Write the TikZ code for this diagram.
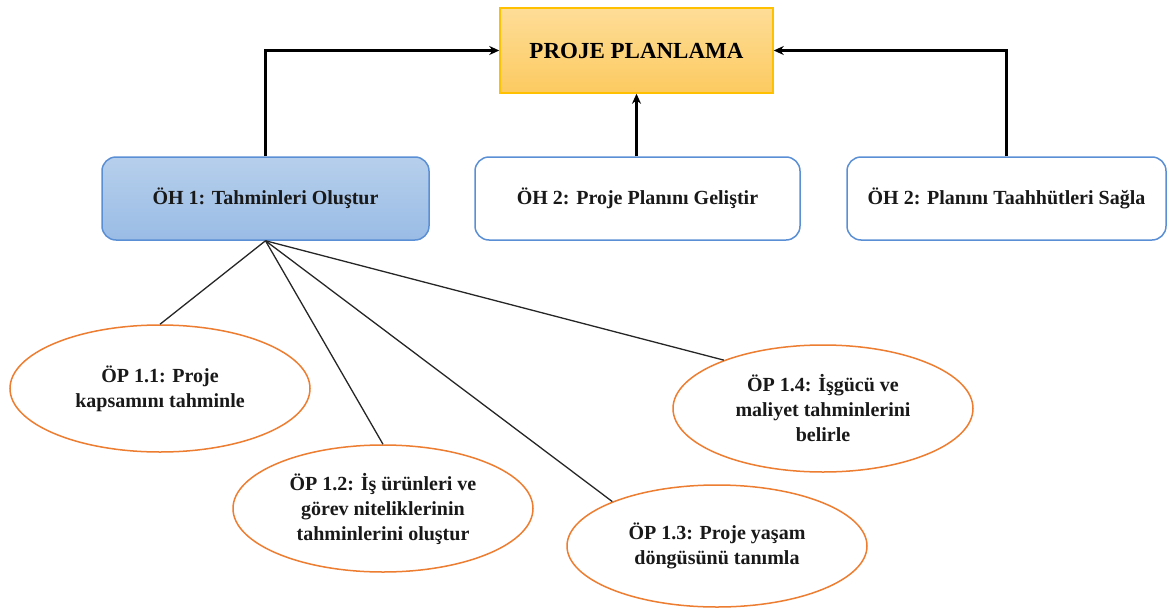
\documentclass[tikz,border=0pt]{standalone}
\usepackage{fontspec}
\setmainfont{Liberation Serif}
\usetikzlibrary{arrows.meta,shapes.geometric}
\definecolor{orbord}{HTML}{FFC000}
\definecolor{ortop}{HTML}{FEDD98}
\definecolor{orbot}{HTML}{FCCA60}
\definecolor{blbord}{HTML}{5B8FD5}
\definecolor{bltop}{HTML}{B6CFEC}
\definecolor{blbot}{HTML}{9ABCE5}
\definecolor{elbord}{HTML}{ED7D31}
\tikzset{
  txt/.style={font=\bfseries\fontsize{20}{25}\selectfont, align=center, text=black!90},
  topbox/.style={draw=orbord, line width=1.5pt, top color=ortop, bottom color=orbot,
    minimum width=273pt, minimum height=85pt, inner sep=0pt,
    font=\bfseries\fontsize{23}{28}\selectfont},
  hbox/.style={txt, draw=blbord, line width=1.5pt, rounded corners=14pt, fill=white,
    minimum height=83pt, inner sep=0pt},
  hboxb/.style={hbox, top color=bltop, bottom color=blbot},
  op/.style={txt, ellipse, draw=elbord, line width=1.5pt, fill=white, inner sep=0pt},
  arr/.style={line width=2.5pt, -{Stealth[length=10pt,width=9pt]}},
  ln/.style={line width=1.3pt, black!85}
}
\begin{document}
\begin{tikzpicture}[x=1pt,y=-1pt]
\useasboundingbox (0,0) rectangle (1167,613);
\node[topbox] (pp) at (636.5,50.5) {PROJE PLANLAMA};
\node[hboxb, minimum width=327pt] (oh1) at (265.5,198.5) {ÖH 1: Tahminleri Oluştur};
\node[hbox, minimum width=325pt] (oh2) at (637.5,198.5) {ÖH 2: Proje Planını Geliştir};
\node[hbox, minimum width=319pt] (oh3) at (1006.5,198.5) {ÖH 2: Planını Taahhütleri Sağla};

\node[op, minimum width=300pt, minimum height=127pt] (op1) at (160,388.5) {ÖP 1.1: Proje\\kapsamını tahminle};
\node[op, minimum width=300pt, minimum height=127pt] (op2) at (383,508.5) {ÖP 1.2: İş ürünleri ve\\görev niteliklerinin\\tahminlerini oluştur};
\node[op, minimum width=300pt, minimum height=122pt] (op3) at (717,546) {ÖP 1.3: Proje yaşam\\döngüsünü tanımla};
\node[op, minimum width=300pt, minimum height=127pt] (op4) at (823,408.5) {ÖP 1.4: İşgücü ve\\maliyet tahminlerini\\belirle};

\draw[arr] (oh1.north) |- (pp.west);
\draw[arr] (oh2.north -| pp.south) -- (pp.south);
\draw[arr] (oh3.north) |- (pp.east);

\coordinate (hub) at (oh1.south);
\draw[ln] (hub) -- (op1.north);
\draw[ln] (hub) -- (op2.north);
\draw[ln] (hub) -- (op3.157);
\draw[ln] (hub) -- (op4.154);
\end{tikzpicture}
\end{document}
